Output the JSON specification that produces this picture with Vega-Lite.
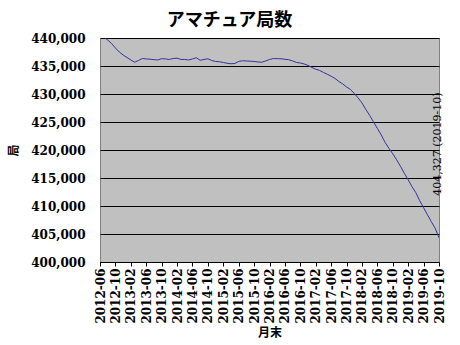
{
  "$schema": "https://vega.github.io/schema/vega-lite/v6.json",
  "autosize": {"type": "none"},
  "width": 339,
  "height": 224,
  "padding": {"left": 100, "top": 38, "right": 21, "bottom": 83},
  "background": "white",
  "title": {
    "text": "アマチュア局数",
    "font": "Noto Sans CJK JP",
    "fontSize": 18,
    "fontWeight": "bold",
    "color": "black",
    "frame": "group",
    "anchor": "middle",
    "dx": -40,
    "offset": 2
  },
  "config": {
    "view": {"stroke": "#808080", "fill": "#C0C0C0"},
    "axis": {
      "labelFont": "DejaVu Serif",
      "labelFontWeight": "bold",
      "labelFontSize": 12,
      "labelColor": "black",
      "titleFont": "Noto Sans CJK JP",
      "titleFontWeight": "bold",
      "titleFontSize": 12,
      "titleColor": "black"
    }
  },
  "encoding": {
    "x": {
      "field": "month",
      "type": "ordinal",
      "scale": {"type": "point", "padding": 0},
      "title": "月末",
      "axis": {
        "values": ["2012-06","2012-10","2013-02","2013-06","2013-10","2014-02","2014-06","2014-10","2015-02","2015-06","2015-10","2016-02","2016-06","2016-10","2017-02","2017-06","2017-10","2018-02","2018-06","2018-10","2019-02","2019-06","2019-10"],
        "labelAngle": 270,
        "tickSize": 4,
        "tickColor": "black",
        "domainColor": "black",
        "labelPadding": 2,
        "titlePadding": 4,
        "grid": false
      }
    },
    "y": {
      "field": "value",
      "type": "quantitative",
      "scale": {"domain": [400000, 440000], "nice": false, "zero": false},
      "title": "局",
      "axis": {
        "values": [400000, 405000, 410000, 415000, 420000, 425000, 430000, 435000, 440000],
        "format": ",.0f",
        "ticks": false,
        "domain": false,
        "labelPadding": 15,
        "grid": true,
        "gridColor": "black",
        "gridOpacity": 1,
        "titleX": -87,
        "titleY": 112,
        "titleBaseline": "middle",
        "titleAlign": "center"
      }
    }
  },
  "layer": [
    {
      "data": {
        "values": [
          {"month": "2012-06", "value": 440700},
          {"month": "2012-07", "value": 440180},
          {"month": "2012-08", "value": 439640},
          {"month": "2012-09", "value": 439020},
          {"month": "2012-10", "value": 438220},
          {"month": "2012-11", "value": 437500},
          {"month": "2012-12", "value": 436970},
          {"month": "2013-01", "value": 436520},
          {"month": "2013-02", "value": 436080},
          {"month": "2013-03", "value": 435670},
          {"month": "2013-04", "value": 435990},
          {"month": "2013-05", "value": 436340},
          {"month": "2013-06", "value": 436260},
          {"month": "2013-07", "value": 436220},
          {"month": "2013-08", "value": 436130},
          {"month": "2013-09", "value": 436080},
          {"month": "2013-10", "value": 436310},
          {"month": "2013-11", "value": 436260},
          {"month": "2013-12", "value": 436170},
          {"month": "2014-01", "value": 436340},
          {"month": "2014-02", "value": 436400},
          {"month": "2014-03", "value": 436170},
          {"month": "2014-04", "value": 436170},
          {"month": "2014-05", "value": 436080},
          {"month": "2014-06", "value": 436260},
          {"month": "2014-07", "value": 436470},
          {"month": "2014-08", "value": 436020},
          {"month": "2014-09", "value": 436170},
          {"month": "2014-10", "value": 436290},
          {"month": "2014-11", "value": 435990},
          {"month": "2014-12", "value": 435810},
          {"month": "2015-01", "value": 435760},
          {"month": "2015-02", "value": 435630},
          {"month": "2015-03", "value": 435490},
          {"month": "2015-04", "value": 435400},
          {"month": "2015-05", "value": 435450},
          {"month": "2015-06", "value": 435810},
          {"month": "2015-07", "value": 435930},
          {"month": "2015-08", "value": 435900},
          {"month": "2015-09", "value": 435860},
          {"month": "2015-10", "value": 435810},
          {"month": "2015-11", "value": 435720},
          {"month": "2015-12", "value": 435670},
          {"month": "2016-01", "value": 435900},
          {"month": "2016-02", "value": 436170},
          {"month": "2016-03", "value": 436330},
          {"month": "2016-04", "value": 436310},
          {"month": "2016-05", "value": 436290},
          {"month": "2016-06", "value": 436200},
          {"month": "2016-07", "value": 436120},
          {"month": "2016-08", "value": 435900},
          {"month": "2016-09", "value": 435630},
          {"month": "2016-10", "value": 435540},
          {"month": "2016-11", "value": 435360},
          {"month": "2016-12", "value": 435100},
          {"month": "2017-01", "value": 434740},
          {"month": "2017-02", "value": 434420},
          {"month": "2017-03", "value": 434210},
          {"month": "2017-04", "value": 433850},
          {"month": "2017-05", "value": 433530},
          {"month": "2017-06", "value": 433170},
          {"month": "2017-07", "value": 432780},
          {"month": "2017-08", "value": 432240},
          {"month": "2017-09", "value": 431800},
          {"month": "2017-10", "value": 431260},
          {"month": "2017-11", "value": 430820},
          {"month": "2017-12", "value": 430100},
          {"month": "2018-01", "value": 429300},
          {"month": "2018-02", "value": 428410},
          {"month": "2018-03", "value": 427250},
          {"month": "2018-04", "value": 426180},
          {"month": "2018-05", "value": 425020},
          {"month": "2018-06", "value": 423860},
          {"month": "2018-07", "value": 422700},
          {"month": "2018-08", "value": 421370},
          {"month": "2018-09", "value": 420300},
          {"month": "2018-10", "value": 419320},
          {"month": "2018-11", "value": 418250},
          {"month": "2018-12", "value": 417100},
          {"month": "2019-01", "value": 415840},
          {"month": "2019-02", "value": 414680},
          {"month": "2019-03", "value": 413440},
          {"month": "2019-04", "value": 412370},
          {"month": "2019-05", "value": 410940},
          {"month": "2019-06", "value": 409690},
          {"month": "2019-07", "value": 408450},
          {"month": "2019-08", "value": 407200},
          {"month": "2019-09", "value": 406040},
          {"month": "2019-10", "value": 404327}
        ]
      },
      "mark": {"type": "line", "color": "#333399", "strokeWidth": 1, "clip": true}
    },
    {
      "data": {"values": [{"month": "2019-10", "value": 404327, "label": "404,327 (2019-10)"}]},
      "mark": {
        "type": "text",
        "angle": 270,
        "align": "left",
        "baseline": "middle",
        "dx": 42,
        "dy": -1,
        "font": "DejaVu Serif",
        "fontSize": 11,
        "color": "black"
      },
      "encoding": {
        "text": {"field": "label"}
      }
    }
  ]
}
